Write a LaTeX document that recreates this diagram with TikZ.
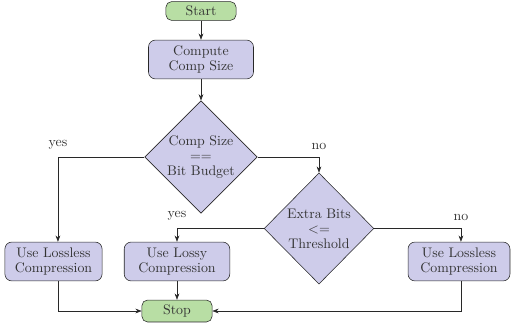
\documentclass[tikz,border=0pt]{standalone}
\usetikzlibrary{shapes.geometric,arrows.meta}
\definecolor{procfill}{RGB}{206,204,234}
\definecolor{termfill}{RGB}{184,222,164}
\definecolor{linecol}{RGB}{40,40,40}
\tikzset{%
  base/.style     = {draw=linecol, align=center, inner sep=2pt, text=black!80,%
                     font=\fontsize{10}{10.8}\selectfont},%
  terminal/.style = {base, rectangle, rounded corners=4pt, fill=termfill,%
                     minimum width=50.5pt, minimum height=13.5pt},%
  process/.style  = {base, rectangle, rounded corners=5pt, fill=procfill,%
                     minimum height=28pt},%
  decision/.style = {base, diamond, fill=procfill, inner sep=0pt,%
                     minimum width=81pt, minimum height=81pt},%
  arrow/.style    = {draw=linecol, -{Stealth[length=4.5pt,width=3.4pt]}},%
  branch/.style   = {above=2pt, text=black!80, font=\fontsize{10}{12}\selectfont}%
}
\begin{document}
\begin{tikzpicture}[x=0.72pt,y=-0.72pt]
	\useasboundingbox (0,0) rectangle (511,325);
	% nodes
	\node [terminal] (start) at (201,11) {Start};
	\node [process, minimum width=75.6pt] (comp) at (201,59.5) {Compute\\Comp Size};
	\node [decision] (test1) at (201,157) {Comp Size\\==\\Bit Budget};
	\node [decision, minimum width=79pt, minimum height=80pt] (test2) at (319,228.5) {Extra Bits\\<=\\Threshold};
	\node [process, minimum width=70pt] (lossless1) at (53.5,261.5) {Use Lossless\\Compression};
	\node [process, minimum width=76pt] (lossy) at (177,261.5) {Use Lossy\\Compression};
	\node [process, minimum width=73.4pt] (lossless2) at (459,261.5) {Use Lossless\\Compression};
	\node [terminal, minimum height=15.8pt] (stop) at (177,311) {Stop};
	% connectors
	\draw [arrow] (start) -- (comp);
	\draw [arrow] (comp) -- (test1);
	\draw [arrow] (test1.west) -| node [branch] {yes} ([xshift=3.2pt]lossless1.north);
	\draw [arrow] (test1.east) -| node [branch] {no} (test2.north);
	\draw [arrow] (test2.west) -| node [branch] {yes} (lossy.north);
	\draw [arrow] (test2.east) -| node [branch] {no} ([xshift=1.4pt]lossless2.north);
	\draw [arrow] ([xshift=3.2pt]lossless1.south) |- (stop.west);
	\draw [arrow] (lossy) -- (stop);
	\draw [arrow] ([xshift=1.4pt]lossless2.south) |- (stop.east);
\end{tikzpicture}
\end{document}
